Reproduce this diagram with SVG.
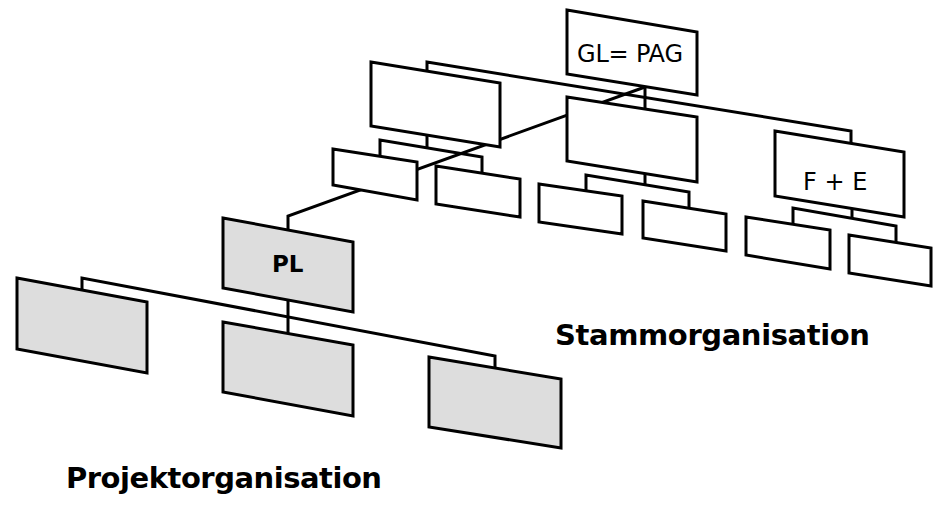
<svg xmlns="http://www.w3.org/2000/svg" width="933" height="506" viewBox="0 0 933 506">
  <style>
    .box { fill: #ffffff; stroke: #000000; stroke-width: 3; stroke-linejoin: miter; }
    .proj { fill: #dddddd; }
    .link { fill: none; stroke: #000000; stroke-width: 3; stroke-linejoin: miter; }
    .lbl { font-family: "DejaVu Sans", Verdana, sans-serif; font-size: 24px; fill: #000000; }
    .lblb { font-family: "DejaVu Sans", Verdana, sans-serif; font-weight: bold; fill: #000000; }
  </style>
  <rect width="933" height="506" fill="#ffffff"/>

  <!-- connectors -->
  <g id="connectors">
    <!-- GL to second level -->
    <polyline class="link" points="427,72 427,62 851,131 851,143"/>
    <line class="link" x1="645" y1="87" x2="645" y2="109"/>
    <!-- under left department -->
    <line class="link" x1="427" y1="135" x2="427" y2="148"/>
    <polyline class="link" points="380,156 380,140 482,157 482,173"/>
    <!-- under middle department -->
    <line class="link" x1="645" y1="173" x2="645" y2="185"/>
    <polyline class="link" points="586,190 586,175 689,192 689,207"/>
    <!-- under F + E -->
    <line class="link" x1="852" y1="208" x2="852" y2="218"/>
    <polyline class="link" points="793,224 793,208 896,226 896,243"/>
    <!-- project lead attached to GL -->
    <polyline class="link" points="645,87 288,216 288,230"/>
    <!-- project team -->
    <line class="link" x1="288" y1="300" x2="288" y2="334"/>
    <polyline class="link" points="82,290 82,278 495,356 495,368"/>
  </g>

  <!-- Stammorganisation -->
  <g id="gl">
    <polygon class="box" points="567,10 697,32 697,95 567,74"/>
    <text class="lbl" x="577" y="62" textLength="106">GL= PAG</text>
  </g>
  <g id="dept-left">
    <polygon class="box" points="371,62 500,83 500,147 371,126"/>
  </g>
  <g id="dept-mid">
    <polygon class="box" points="567,97 697,117 697,182 567,161"/>
  </g>
  <g id="dept-fe">
    <polygon class="box" points="775,131 904,152 904,217 775,196"/>
    <text class="lbl" x="803" y="190">F + E</text>
  </g>
  <g id="unit-a">
    <polygon class="box" points="333,149 417,162 417,200 333,185"/>
  </g>
  <g id="unit-b">
    <polygon class="box" points="436,166 520,179 520,217 436,204"/>
  </g>
  <g id="unit-c">
    <polygon class="box" points="539,184 622,196 622,234 539,222"/>
  </g>
  <g id="unit-d">
    <polygon class="box" points="643,201 726,214 726,251 643,238"/>
  </g>
  <g id="unit-e">
    <polygon class="box" points="746,217 830,230 830,269 746,255"/>
  </g>
  <g id="unit-f">
    <polygon class="box" points="849,235 931,248 931,286 849,273"/>
  </g>

  <!-- Projektorganisation -->
  <g id="pl">
    <polygon class="box proj" points="223,218 353,242 353,312 223,288"/>
    <text class="lblb" x="272" y="272" font-size="23">PL</text>
  </g>
  <g id="team-1">
    <polygon class="box proj" points="17,278 147,302 147,373 17,349"/>
  </g>
  <g id="team-2">
    <polygon class="box proj" points="223,322 353,345 353,416 223,392"/>
  </g>
  <g id="team-3">
    <polygon class="box proj" points="429,357 561,379 561,448 429,427"/>
  </g>

  <g id="titles">
    <text class="lblb" x="555" y="345" font-size="29" textLength="315">Stammorganisation</text>
    <text class="lblb" x="66" y="488" font-size="29" textLength="316">Projektorganisation</text>
  </g>
</svg>
